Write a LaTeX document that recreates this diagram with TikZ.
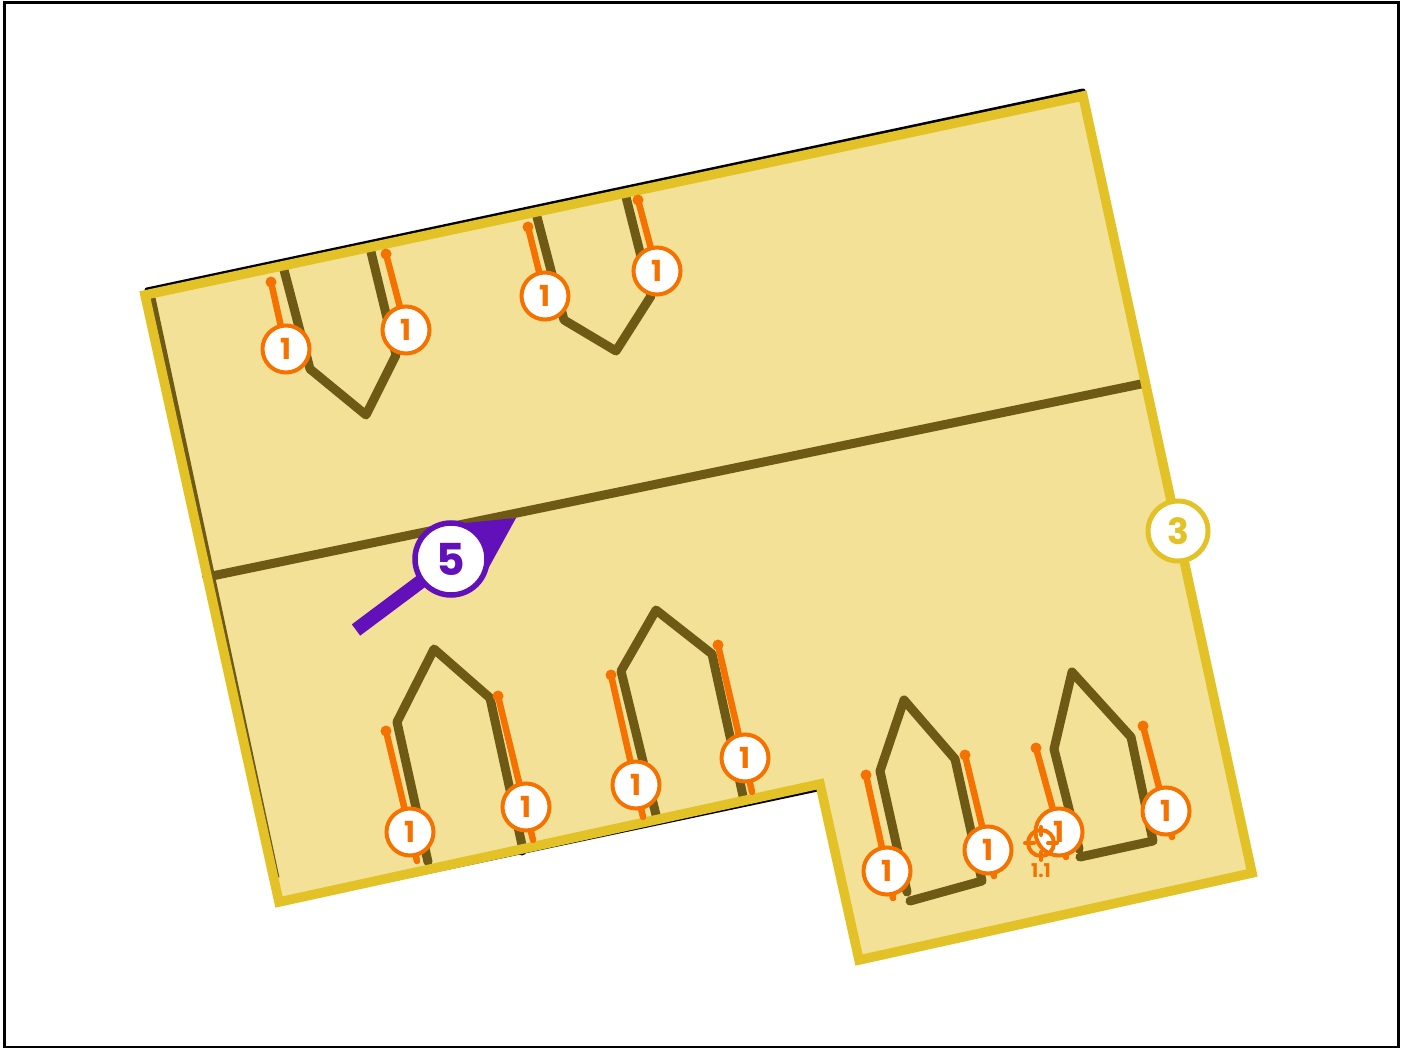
\documentclass[tikz,border=0pt]{standalone}
\usepackage{fontspec}
\setmainfont{Poppins}
\definecolor{roomfill}{HTML}{F2E196}
\definecolor{roomedge}{HTML}{E3C228}
\definecolor{wallcol}{HTML}{6E5A14}
\definecolor{doorcol}{HTML}{F57200}
\definecolor{markcol}{HTML}{6110BA}
\tikzset{
  wall/.style={draw=wallcol, line width=9pt, line join=round, line cap=round},
  doorline/.style={draw=doorcol, line width=6.5pt, line cap=round},
  doordot/.style={circle, fill=doorcol, inner sep=0pt, minimum size=11pt},
  badge/.style={circle, draw=doorcol, fill=white, line width=4pt, inner sep=0pt, minimum size=47pt, text=doorcol, font=\bfseries\fontsize{29}{29}\selectfont},
  bigbadge/.style={circle, draw=markcol, fill=white, line width=5.5pt, inner sep=0pt, minimum size=72pt, text=markcol, font=\bfseries\fontsize{44}{44}\selectfont},
  areabadge/.style={circle, draw=roomedge, fill=white, line width=5pt, inner sep=0pt, minimum size=60pt, text=roomedge, font=\bfseries\fontsize{36}{36}\selectfont},
  tick/.style={draw=doorcol, line width=4pt, line cap=round},
}
\begin{document}
\begin{tikzpicture}[x=1pt, y=-1pt]
\useasboundingbox (0,0) rectangle (1405,1048);
\draw[black, line width=3pt] (4,3) rectangle (1398,1047);

% black outline under the area
\draw[black, line width=5pt, line cap=round] (147,290) -- (1083,91);
\draw[black, line width=4pt] (281,903) -- (820,789);
\fill[black] (205,576) circle (3pt);
\fill[black] (522,851) circle (4.5pt);

% area
\fill[roomfill] (145,295) -- (1083,96) -- (1252,873) -- (859,960) -- (820,784) -- (279,902) -- cycle;
\draw[wall, line cap=butt, line width=7pt] (152,298) -- (276,878);
\draw[wall] (212,576) -- (1141,384);

% walls
\draw[wall] (284,270) -- (310,369) -- (366,415) -- (396,355) -- (371,252);
\draw[wall] (537,217) -- (564,320) -- (616,351) -- (651,296) -- (626,197);
\draw[wall] (428,862) -- (397,722) -- (434,649) -- (490,698) -- (522,845);
\draw[wall] (656,815) -- (621,671) -- (656,610) -- (712,654) -- (743,796);
\draw[wall] (907,892) -- (880,771) -- (904,700) -- (955,759) -- (982,881) -- (910,901);
\draw[wall] (1079,849) -- (1054,749) -- (1072,672) -- (1131,737) -- (1153,841) -- (1080,857);

% area edge on top
\draw[roomedge, line width=9.5pt, line join=miter] (145,295) -- (1083,96) -- (1252,873) -- (859,960) -- (820,784) -- (279,902) -- cycle;

% door ends
\node[doordot] (d1) at (271,282) {};
\node[doordot] (d2) at (386,254) {};
\node[doordot] (d3) at (528,227) {};
\node[doordot] (d4) at (638,200) {};
\node[doordot] (d5) at (386,731) {};
\node[doordot] (d6) at (498,696) {};
\node[doordot] (d7) at (611,675) {};
\node[doordot] (d8) at (718,645) {};
\node[doordot] (d9) at (866,775) {};
\node[doordot] (d10) at (965,755) {};
\node[doordot] (d11) at (1036,748) {};
\node[doordot] (d12) at (1143,726) {};

\coordinate (e5) at (417,861);
\coordinate (e6) at (533,840);
\coordinate (e7) at (643,817);
\coordinate (e8) at (752,792);
\coordinate (e9) at (893,898);
\coordinate (e10) at (994,876);
\coordinate (e11) at (1066,857);
\coordinate (e12) at (1172,837);

% door badges
\coordinate (b1) at (286,349);
\coordinate (b2) at (406,330);
\coordinate (b3) at (545,296);
\coordinate (b4) at (657,271);

\draw[doorline] (d1.center) -- (b1);
\draw[doorline] (d2.center) -- (b2);
\draw[doorline] (d3.center) -- (b3);
\draw[doorline] (d4.center) -- (b4);
\draw[doorline] (d5.center) -- (e5);
\draw[doorline] (d6.center) -- (e6);
\draw[doorline] (d7.center) -- (e7);
\draw[doorline] (d8.center) -- (e8);
\draw[doorline] (d9.center) -- (e9);
\draw[doorline] (d10.center) -- (e10);
\draw[doorline] (d11.center) -- (e11);
\draw[doorline] (d12.center) -- (e12);

\node[badge] (n1) at (286,349) {1};
\node[badge] (n2) at (406,330) {1};
\node[badge] (n3) at (545,296) {1};
\node[badge] (n4) at (657,271) {1};
\node[badge] (n5) at (410,832) {1};
\node[badge] (n6) at (526,807) {1};
\node[badge] (n7) at (636,785) {1};
\node[badge] (n8) at (745,758) {1};
\node[badge] (n9) at (887,871) {1};
\node[badge] (n10) at (988,850) {1};
\node[badge] (n11) at (1059,832) {1};
\node[badge] (n12) at (1166,811) {1};

% target
\node[circle, draw=doorcol, line width=4pt, inner sep=0pt, minimum size=26pt] (target) at (1041,843) {};
\draw[tick] (1025,843) -- (1034,843);
\draw[tick] (1048,843) -- (1057,843);
\draw[tick] (1041,827) -- (1041,835);
\draw[tick] (1041,852) -- (1041,860);
\node[text=doorcol, font=\bfseries\fontsize{19}{19}\selectfont] (targetlabel) at (1041,871) {1.1};

% pointer
\coordinate (tail) at (356,630);
\coordinate (tip) at (516,518);
\coordinate (centre) at (451,559);
\draw[markcol, line width=14pt] (tail) -- (centre);
\fill[markcol] (tip) -- (465,523) -- (483,578) -- cycle;
\node[bigbadge] (five) at (centre) {\raisebox{-2pt}{5}};

\node[areabadge] (three) at (1178,531) {3};
\end{tikzpicture}
\end{document}
